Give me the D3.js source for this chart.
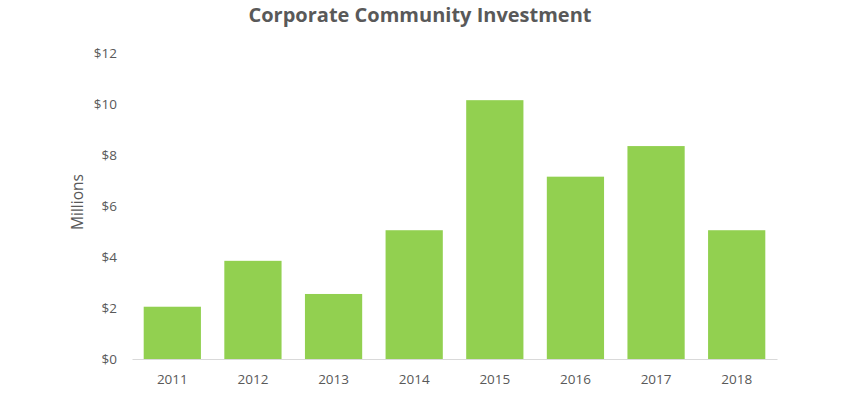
<!DOCTYPE html>
<html>
<head>
<meta charset="utf-8">
<script src="https://cdn.jsdelivr.net/npm/d3@7"></script>
<style>
  body { margin: 0; background: #fff; }
  svg text { font-family: "Open Sans", "Noto Sans", sans-serif; fill: #595959; }
</style>
</head>
<body>
<svg id="chart"></svg>
<script>
const years = ["2011", "2012", "2013", "2014", "2015", "2016", "2017", "2018"];
const investment = [2.05, 3.85, 2.55, 5.05, 10.15, 7.15, 8.35, 5.05];
const yTicks = [0, 2, 4, 6, 8, 10, 12];

const width = 860, height = 395;
const margin = { top: 53, right: 83, bottom: 36, left: 132 };
const chartWidth = width - margin.left - margin.right;
const chartHeight = height - margin.top - margin.bottom;

const svg = d3.select("#chart")
    .attr("width", width)
    .attr("height", height);

const xScale = d3.scaleBand()
    .domain(years)
    .range([0, chartWidth])
    .paddingInner(0.29)
    .paddingOuter(0.145);

const yScale = d3.scaleLinear()
    .domain([0, 12])
    .range([chartHeight, 0]);

const g = svg.append("g")
    .attr("transform", `translate(${margin.left},${margin.top})`);

// Bars
g.selectAll("rect")
    .data(investment)
    .enter()
    .append("rect")
    .attr("x", (d, i) => xScale(years[i]))
    .attr("y", d => yScale(d))
    .attr("width", xScale.bandwidth())
    .attr("height", d => chartHeight - yScale(d))
    .attr("fill", "#92d050");

// X-axis
const xAxis = g.append("g")
    .attr("transform", `translate(0,${chartHeight})`)
    .call(d3.axisBottom(xScale).tickSize(0).tickPadding(15));
xAxis.select(".domain").attr("stroke", "#d9d9d9").attr("stroke-width", 1.2);
xAxis.selectAll("text").attr("font-size", "13.5px").attr("fill", "#595959");

// Y-axis
const yAxis = g.append("g")
    .call(d3.axisLeft(yScale).tickValues(yTicks).tickSize(0).tickPadding(15)
        .tickFormat(d => "$" + d));
yAxis.select(".domain").remove();
yAxis.selectAll("text").attr("font-size", "13.5px").attr("fill", "#595959");

// Axis title
svg.append("text")
    .attr("transform", "translate(83,202) rotate(-90)")
    .attr("text-anchor", "middle")
    .attr("font-size", "15.5px")
    .text("Millions");

// Chart title
svg.append("text")
    .attr("x", 420)
    .attr("y", 22)
    .attr("text-anchor", "middle")
    .attr("font-size", "20px")
    .attr("font-weight", "bold")
    .text("Corporate Community Investment");
</script>
</body>
</html>
